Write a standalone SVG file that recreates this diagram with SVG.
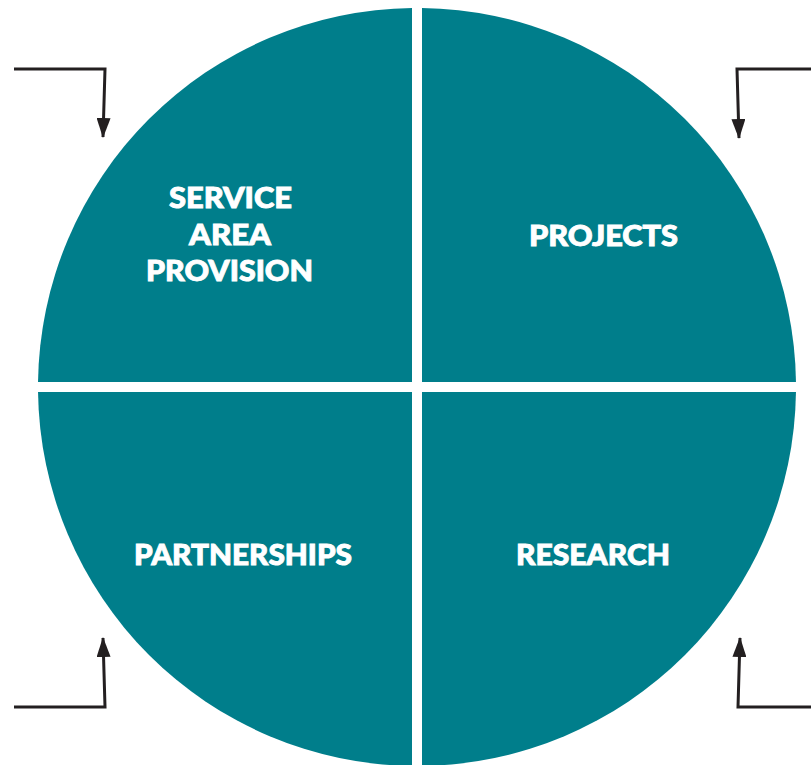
<svg xmlns="http://www.w3.org/2000/svg" width="811" height="765" viewBox="0 0 811 765">
<style>
.q{fill:#007e8b}
.t{fill:#fff;stroke:#fff;stroke-width:0.9;font-family:Lato,"Open Sans",sans-serif;font-weight:900;font-size:28.5px;text-anchor:middle}
.c{fill:none;stroke:#231f20;stroke-width:3}
</style>
<defs>
<marker id="a" viewBox="0 0 20 14" refX="19" refY="7" markerWidth="20" markerHeight="14" markerUnits="userSpaceOnUse" orient="auto">
<path d="M0,0 L20,7 L0,14 Z" fill="#231f20"/>
</marker>
</defs>
<rect width="811" height="765" fill="#fff"/>
<g id="service-area-provision">
<path class="q" d="M412,382 V8.03 A379,379 0 0,0 38.03,382 Z"/>
<text class="t" x="230.5" y="208" textLength="123" lengthAdjust="spacingAndGlyphs">SERVICE</text>
<text class="t" x="230" y="245" textLength="82" lengthAdjust="spacingAndGlyphs">AREA</text>
<text class="t" x="229.5" y="281" textLength="167" lengthAdjust="spacingAndGlyphs">PROVISION</text>
</g>
<g id="projects">
<path class="q" d="M422,382 V8.03 A379,379 0 0,1 795.97,382 Z"/>
<text class="t" x="603.5" y="246" textLength="149" lengthAdjust="spacingAndGlyphs">PROJECTS</text>
</g>
<g id="partnerships">
<path class="q" d="M412,392 V765.97 A379,379 0 0,1 38.03,392 Z"/>
<text class="t" x="243" y="565" textLength="218" lengthAdjust="spacingAndGlyphs">PARTNERSHIPS</text>
</g>
<g id="research">
<path class="q" d="M422,392 V765.97 A379,379 0 0,0 795.97,392 Z"/>
<text class="t" x="593" y="565" textLength="154" lengthAdjust="spacingAndGlyphs">RESEARCH</text>
</g>
<g id="connectors">
<path class="c" marker-end="url(#a)" d="M14,69 H105 L103,137"/>
<path class="c" marker-end="url(#a)" d="M811,69 H737 L739,138"/>
<path class="c" marker-end="url(#a)" d="M14,707 H105 L103,638"/>
<path class="c" marker-end="url(#a)" d="M811,707 H738 L740,638"/>
</g>
</svg>
